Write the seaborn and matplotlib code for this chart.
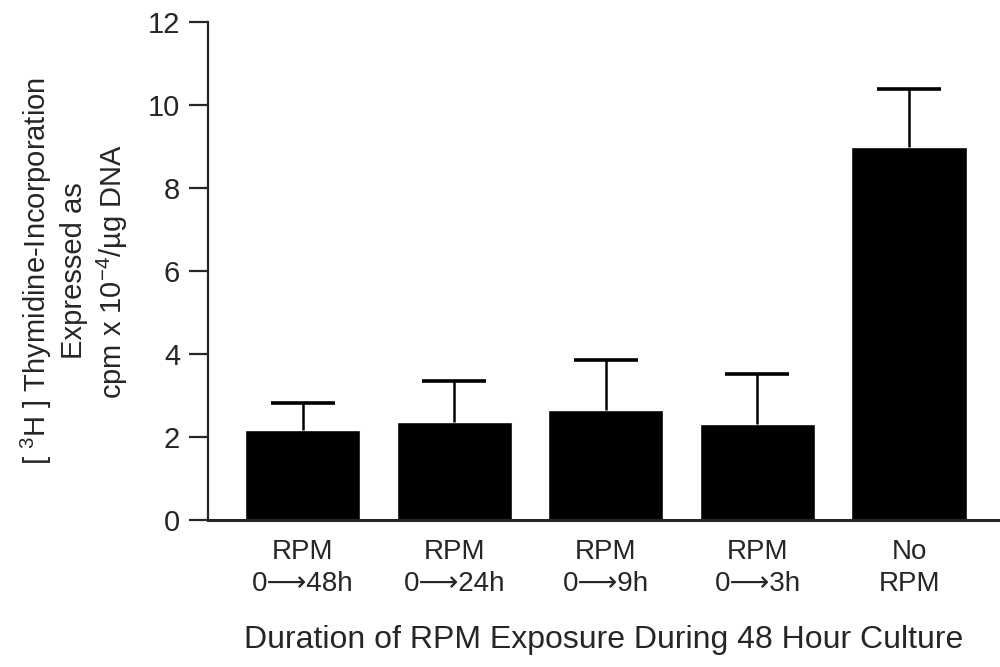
import numpy as np
import pandas as pd
import matplotlib
matplotlib.use("Agg")
import matplotlib.pyplot as plt
import seaborn as sns

# 数据：各组均值与标准误（向上误差棒）
groups = ["RPM\n0\u27f648h", "RPM\n0\u27f624h", "RPM\n0\u27f69h", "RPM\n0\u27f63h", "No\nRPM"]
means = [2.18, 2.35, 2.65, 2.32, 9.0]
sem = [0.64, 1.0, 1.21, 1.21, 1.38]
y_ticks = [0, 2, 4, 6, 8, 10, 12]

sns.set_style("ticks")
plt.rcParams["font.family"] = ["Liberation Sans", "DejaVu Sans"]
plt.rcParams["mathtext.fontset"] = "custom"
plt.rcParams["mathtext.rm"] = "Liberation Sans"
plt.rcParams["mathtext.it"] = "Liberation Sans"

df = pd.DataFrame({"group": groups, "value": means})

fig = plt.figure(figsize=(10, 6.67), dpi=100)
ax = fig.add_axes([0.208, 0.2204, 0.792, 0.7466])

sns.barplot(data=df, x="group", y="value", color="black", width=0.76,
            errorbar=None, saturation=1, ax=ax)
# 只画向上的误差棒，去掉下端的帽子
eb = ax.errorbar(np.arange(len(means)), means, yerr=[np.zeros(len(sem)), sem],
                 fmt="none", ecolor="black", elinewidth=1.8, capsize=23,
                 capthick=2.6)
eb[1][0].set_visible(False)

ax.set_xlim(-0.625, 4.6)
ax.set_ylim(0, 12)
ax.set_yticks(y_ticks)
ax.tick_params(axis="y", direction="out", length=14, width=1.6, labelsize=21, pad=6)
ax.tick_params(axis="x", length=0, labelsize=20, pad=14)
for lab in ax.get_xticklabels():
    lab.set_linespacing(1.3)

ax.spines["top"].set_visible(False)
ax.spines["right"].set_visible(False)
ax.spines["left"].set_linewidth(1.6)
ax.spines["bottom"].set_linewidth(2.2)

ax.set_xlabel("Duration of RPM Exposure During 48 Hour Culture", fontsize=23, labelpad=20)
ax.set_ylabel("[ $^{3}$H ] Thymidine-Incorporation\nExpressed as\ncpm x 10$^{-4}$/\u00b5g DNA",
              fontsize=21, linespacing=1.25, labelpad=13)

fig.savefig("out.png", dpi=100)
